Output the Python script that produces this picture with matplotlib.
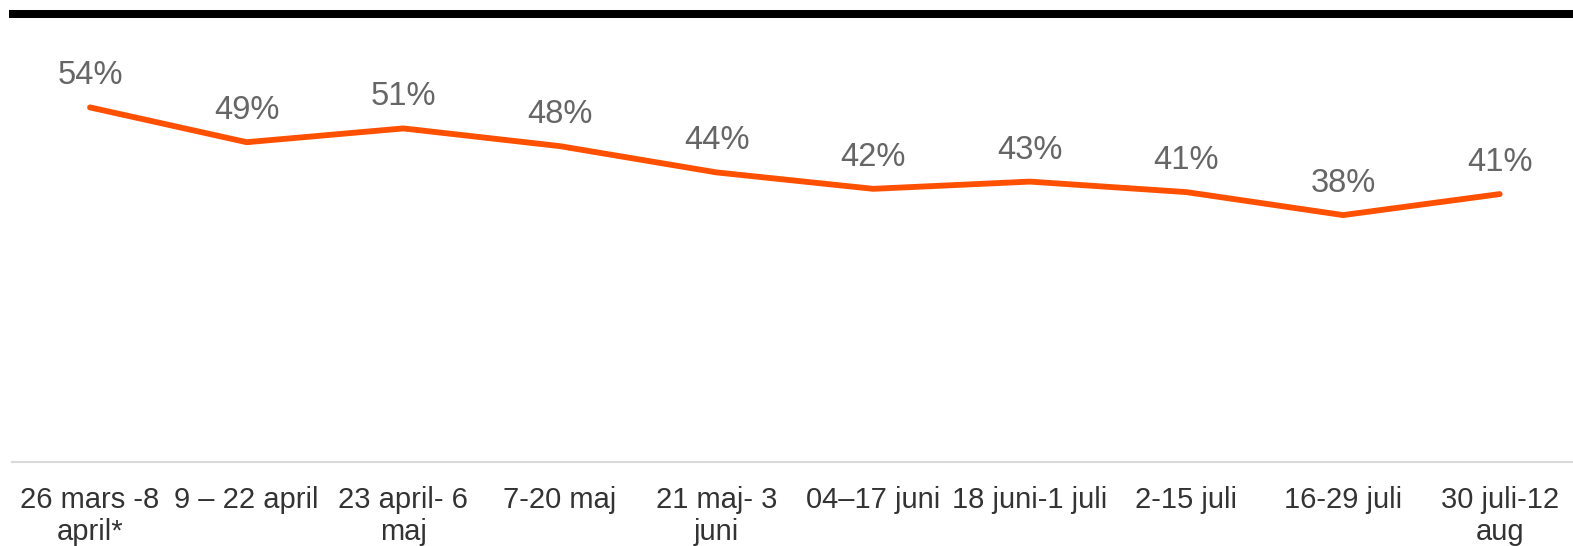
import matplotlib.pyplot as plt
from matplotlib.patches import Rectangle

# Periods and share (%)
periods = ["26 mars -8\napril*", "9 – 22 april", "23 april- 6\nmaj", "7-20 maj",
           "21 maj- 3\njuni", "04–17 juni", "18 juni-1 juli", "2-15 juli",
           "16-29 juli", "30 juli-12\naug"]
share = [54.0, 48.7, 50.8, 48.1, 44.1, 41.6, 42.7, 41.1, 37.6, 40.8]

plt.rcParams['font.family'] = ['Liberation Sans', 'DejaVu Sans']

W, H = 1573, 546
fig = plt.figure(figsize=(W / 100, H / 100), dpi=100)

# axes placed in pixel terms: baseline at y=462, 0..60 % spans 394 px
left, right = 11.7, 1578.0
bottom, top = H - 462, H - 68
ax = fig.add_axes([left / W, bottom / H, (right - left) / W, (top - bottom) / H])

x = list(range(len(periods)))
ax.plot(x, share, color='#FF5000', lw=4.2, solid_capstyle='round', solid_joinstyle='round')
for xi, v in zip(x, share):
    ax.annotate(f"{v:.0f}%", (xi, v), xytext=(0, 16.5), textcoords='offset points',
                ha='center', va='baseline', fontsize=23.5, color='#666666',
                annotation_clip=False)

ax.set_xlim(-0.5, len(periods) - 0.5)
ax.set_ylim(0, 60)
ax.set_xticks(x)
ax.set_xticklabels(periods, fontsize=21, color='#333333', linespacing=1.2)
ax.tick_params(axis='x', length=0, pad=17)
ax.set_yticks([])
for s in ['top', 'left', 'right']:
    ax.spines[s].set_visible(False)
ax.spines['bottom'].set_color('#D9D9D9')
ax.spines['bottom'].set_linewidth(1.5)

# black rule across the top
fig.add_artist(Rectangle((9 / W, (H - 17.5) / H), (W - 9) / W, 7.5 / H,
                         transform=fig.transFigure, color='black', lw=0))

fig.savefig("out.png", dpi=100)
